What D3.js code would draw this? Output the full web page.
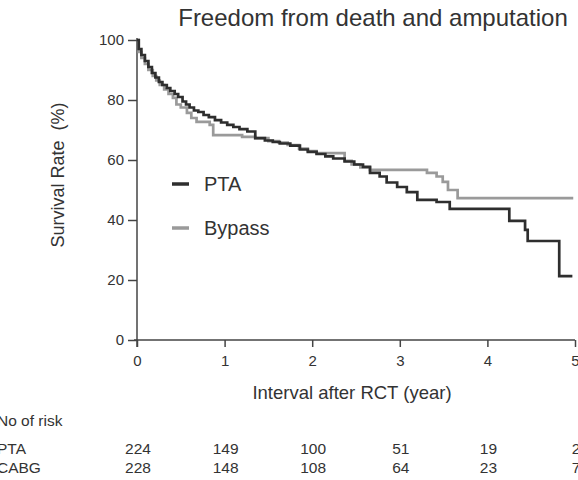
<!DOCTYPE html>
<html lang="en">
<head>
  <meta charset="UTF-8">
  <title>Freedom from death and amputation</title>
  <script src="https://d3js.org/d3.v7.min.js"></script>
  <style>
    body { margin: 0; background: #fff; }
    text { font-family: 'Liberation Sans', Arial, sans-serif; fill: #333; }
    .axis path, .axis line { stroke: #444; stroke-width: 1.5; }
    .axis text { font-size: 15px; fill: #333; }
  </style>
</head>
<body>
  <svg width="578" height="480"></svg>

  <script>
    // Kaplan-Meier steps (years, survival %)
    const ptaTime = [0, 0.02, 0.05, 0.09, 0.13, 0.17, 0.21, 0.25, 0.29, 0.34, 0.38, 0.43, 0.47, 0.52, 0.56, 0.6, 0.65, 0.7, 0.76, 0.82, 0.89, 0.96, 1.03, 1.1, 1.17, 1.26, 1.35, 1.46, 1.55, 1.63, 1.75, 1.86, 1.95, 2.05, 2.15, 2.24, 2.37, 2.48, 2.58, 2.66, 2.77, 2.85, 2.97, 3.08, 3.2, 3.42, 3.57, 4.25, 4.43, 4.46, 4.82, 4.97];
    const ptaSurv = [100, 97, 95, 93, 91, 89, 87.5, 86, 85, 84, 83, 82, 81, 79.5, 78.5, 77.5, 76.5, 76, 75, 74.3, 73.3, 72.5, 71.7, 71, 70.3, 69.5, 67.3, 66.5, 66, 65.5, 64.8, 63.5, 62.7, 62, 61.2, 60.5, 59.5, 58.5, 57.7, 55.7, 54.5, 52.5, 51, 49.3, 46.7, 46, 43.7, 39.7, 36.7, 33, 21.3, 21.3];

    const bypassTime = [0, 0.02, 0.05, 0.09, 0.13, 0.18, 0.22, 0.26, 0.31, 0.36, 0.41, 0.45, 0.5, 0.57, 0.62, 0.68, 0.83, 0.87, 1.2, 1.35, 1.5, 1.62, 1.72, 1.85, 1.95, 2.05, 2.22, 2.37, 2.45, 2.55, 2.66, 3.31, 3.42, 3.49, 3.55, 3.66, 4.98];
    const bypassSurv = [100, 96, 94, 92, 90, 88, 86.5, 85, 83.5, 82, 80.7, 78.5, 77.5, 75.7, 74, 72.7, 71.7, 68.3, 67.7, 67.3, 66.3, 65.8, 65, 63.8, 63, 62.3, 62.3, 59.7, 58.5, 57.5, 56.7, 55.7, 54.5, 52.7, 50, 47.3, 47.3];

    const xTicks = [0, 1, 2, 3, 4, 5];
    const yTicks = [0, 20, 40, 60, 80, 100];
    const riskLabels = ["PTA", "CABG"];
    const riskPTA = [224, 149, 100, 51, 19, 2];
    const riskCABG = [228, 148, 108, 64, 23, 7];

    const svg = d3.select("svg");
    const plotLeft = 137, plotRight = 575, plotTop = 40, plotBottom = 340;

    const x = d3.scaleLinear().domain([0, 5]).range([plotLeft, plotRight]);
    const y = d3.scaleLinear().domain([0, 100]).range([plotBottom, plotTop]);

    // Axes
    svg.append("g")
      .attr("class", "axis")
      .attr("transform", `translate(0,${plotBottom})`)
      .call(d3.axisBottom(x).tickValues(xTicks).tickFormat(d3.format("d"))
        .tickSize(7).tickSizeOuter(0).tickPadding(8))
      .call(g => g.select(".domain").attr("d", `M${plotLeft - 3},0H${plotRight}`));

    svg.append("g")
      .attr("class", "axis")
      .attr("transform", `translate(${plotLeft},0)`)
      .call(d3.axisLeft(y).tickValues(yTicks).tickSize(9).tickSizeOuter(0).tickPadding(4))
      .call(g => g.select(".domain").attr("d", `M0,${plotTop - 2}V${plotBottom + 7}`));

    // Curves
    const line = d3.line()
      .x(d => x(d[0]))
      .y(d => y(d[1]))
      .curve(d3.curveStepAfter);

    svg.append("path")
      .datum(d3.zip(bypassTime, bypassSurv))
      .attr("fill", "none")
      .attr("stroke", "#9a9a9a")
      .attr("stroke-width", 2.7)
      .attr("d", line);

    svg.append("path")
      .datum(d3.zip(ptaTime, ptaSurv))
      .attr("fill", "none")
      .attr("stroke", "#2e2e2e")
      .attr("stroke-width", 2.7)
      .attr("d", line);

    // Legend
    const legend = [{ name: "PTA", color: "#2e2e2e", y: 184 }, { name: "Bypass", color: "#9a9a9a", y: 228 }];
    legend.forEach(l => {
      svg.append("line")
        .attr("x1", 172).attr("x2", 189)
        .attr("y1", l.y).attr("y2", l.y)
        .attr("stroke", l.color).attr("stroke-width", 3.5);
      svg.append("text")
        .attr("x", 204).attr("y", l.y + 7)
        .style("font-size", "20px")
        .text(l.name);
    });

    // Titles
    svg.append("text")
      .attr("x", 373).attr("y", 26)
      .attr("text-anchor", "middle")
      .style("font-size", "24px")
      .text("Freedom from death and amputation");

    svg.append("text")
      .attr("x", 352).attr("y", 399)
      .attr("text-anchor", "middle")
      .style("font-size", "18.5px")
      .text("Interval after RCT (year)");

    svg.append("text")
      .attr("transform", `translate(64,175) rotate(-90)`)
      .attr("text-anchor", "middle")
      .style("font-size", "18px")
      .style("white-space", "pre")
      .text("Survival Rate  (%)");

    // Number at risk table
    svg.append("text")
      .attr("x", -3).attr("y", 426)
      .style("font-size", "15.5px")
      .text("No of risk");

    [riskPTA, riskCABG].forEach((row, i) => {
      const ry = 454 + i * 19;
      svg.append("text")
        .attr("x", -3).attr("y", ry)
        .style("font-size", "15.5px")
        .text(riskLabels[i]);
      svg.selectAll(null)
        .data(row)
        .enter().append("text")
        .attr("x", (d, j) => x(xTicks[j]) + 1)
        .attr("y", ry)
        .attr("text-anchor", "middle")
        .style("font-size", "15.5px")
        .text(d => d);
    });
  </script>
</body>
</html>
